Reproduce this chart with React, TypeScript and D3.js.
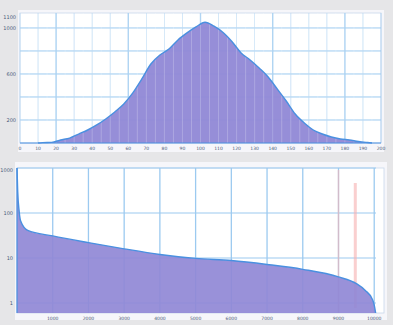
import React from "react";
import * as d3 from "d3";

// Top panel: histogram (bin start, count)
const histBins = [0,5,10,15,20,25,30,35,40,45,50,55,60,65,70,75,80,85,90,95,100,105,110,115,120,125,130,135,140,145,150,155,160,165,170,175,180,185,190,195];
const histCounts = [0,0,3,5,26,43,78,113,157,209,270,339,435,557,687,765,817,896,957,1009,1050,1015,960,880,783,722,652,574,470,365,252,174,113,78,52,35,26,13,4,0];
const histXTicks = d3.range(0, 201, 10);
const histYGrid = [200, 400, 600, 800, 1000];
const histYLabels = [200, 600, 1000];

// Bottom panel: sorted values (index, value), log scale
const rankIdx = [0, 20, 60, 100, 300, 1000, 2000, 3000, 4000, 5000, 6000, 7000, 8000, 9000, 9500, 9750, 9950, 10000, 10040];
const rankVal = [1000, 300, 110, 67, 41, 31, 22, 16, 12, 9.8, 8.8, 7.2, 5.6, 3.8, 2.7, 1.9, 1.2, 0.9, 0.6];
const rankXTicks = [1000, 2000, 3000, 4000, 5000, 6000, 7000, 8000, 9000, 10000];
const rankYTicks = [1, 10, 100, 1000];
const markers = [9000, 9470];

const FILL = "#9088d6";
const STROKE = "#4a90e0";
const GRID = "#9ccaf0";
const TXT = "#4a5a78";

export default function App() {
  const tx = d3.scaleLinear().domain([0, 200]).range([20, 381]);
  const ty = d3.scaleLinear().domain([0, 1130]).range([143, 13]);
  const histData = histBins.map((b, i) => ({ b, c: histCounts[i] }));
  const centerPts: [number, number][] = histData.map((d) => [d.b + 2.5, d.c]);
  const topPts: [number, number][] = [[10, 0], ...centerPts.filter((d) => d[0] > 10 && d[0] < 195), [195, 0]];
  const areaTop = d3.area<[number, number]>().x((d) => tx(d[0])).y0(ty(0)).y1((d) => ty(d[1])).curve(d3.curveMonotoneX);
  const lineTop = d3.line<[number, number]>().x((d) => tx(d[0])).y((d) => ty(d[1])).curve(d3.curveMonotoneX);

  const bx = d3.scaleLinear().domain([0, 10050]).range([17, 376]);
  const by = d3.scaleLog().domain([0.6, 1000]).range([313, 168]);
  const rankPts: [number, number][] = rankIdx.map((v, i) => [v, rankVal[i]]);
  const areaBot = d3.area<[number, number]>().x((d) => bx(d[0])).y0(313).y1((d) => by(d[1])).curve(d3.curveMonotoneX);
  const lineBot = d3.line<[number, number]>().x((d) => bx(d[0])).y((d) => by(d[1])).curve(d3.curveMonotoneX);

  return (
    <svg width={393} height={325} style={{ position: "absolute", left: 0, top: 0, fontFamily: "DejaVu Sans, sans-serif" }}>
      <rect x={0} y={0} width={393} height={325} fill="#e6e6e8" />
      {/* top panel */}
      <rect x={18} y={10} width={366} height={142} fill="#f6f6fa" />
      <rect x={tx(0)} y={ty(1130)} width={tx(200) - tx(0)} height={ty(0) - ty(1130)} fill="#ffffff" stroke="#c8d8ea" strokeWidth={0.8} />
      {histXTicks.map((t) => (
        <line key={"tg" + t} x1={tx(t)} x2={tx(t)} y1={13} y2={143} stroke={GRID} strokeWidth={t % 40 === 20 ? 1.3 : 0.7} opacity={t % 40 === 20 ? 1 : 0.8} />
      ))}
      {histYGrid.map((t) => (
        <line key={"tyg" + t} x1={20} x2={381} y1={ty(t)} y2={ty(t)} stroke={GRID} strokeWidth={1} />
      ))}
      <path d={areaTop(topPts) || ""} fill={FILL} opacity={0.95} />
      {histBins.map((b) => (
        <line key={"bs" + b} x1={tx(b)} x2={tx(b)} y1={ty(0)} y2={13} stroke="#ffffff" strokeWidth={1} opacity={0.22} />
      ))}
      <path d={lineTop(topPts) || ""} fill="none" stroke={STROKE} strokeWidth={1.4} />
      <line x1={20} x2={381} y1={143} y2={143} stroke={STROKE} strokeWidth={1} />
      {histXTicks.map((t) => (
        <text key={"tl" + t} x={tx(t)} y={150} fontSize={4.5} fill={TXT} textAnchor="middle">{t}</text>
      ))}
      {histYLabels.map((t) => (
        <text key={"tyl" + t} x={16} y={ty(t) + 2} fontSize={5} fill={TXT} textAnchor="end">{t}</text>
      ))}
      <text x={16} y={19} fontSize={5} fill={TXT} textAnchor="end">1100</text>

      {/* bottom panel */}
      <rect x={15} y={162} width={372} height={158} fill="#f6f6fa" />
      <rect x={bx(0)} y={168} width={bx(10050) - bx(0) + 8} height={145} fill="#ffffff" stroke="#c8d8ea" strokeWidth={0.8} />
      {rankXTicks.map((t) => (
        <line key={"bg" + t} x1={bx(t)} x2={bx(t)} y1={168} y2={313} stroke={GRID} strokeWidth={1.3} />
      ))}
      {rankYTicks.map((t) => (
        <line key={"byg" + t} x1={17} x2={376} y1={by(t)} y2={by(t)} stroke={GRID} strokeWidth={1.1} />
      ))}
      <line x1={bx(markers[0])} x2={bx(markers[0])} y1={170} y2={313} stroke="#f6b4b4" strokeWidth={1.5} opacity={0.6} />
      <line x1={bx(markers[1])} x2={bx(markers[1])} y1={183} y2={308} stroke="#f7b0b0" strokeWidth={3} opacity={0.6} />
      <path d={areaBot(rankPts) || ""} fill={FILL} opacity={0.92} />
      <path d={lineBot(rankPts) || ""} fill="none" stroke={STROKE} strokeWidth={1.4} />
      <line x1={17} x2={17} y1={168} y2={313} stroke={STROKE} strokeWidth={1.2} />
      {rankXTicks.map((t) => (
        <text key={"bl" + t} x={bx(t)} y={320} fontSize={4.5} fill={TXT} textAnchor="middle">{t}</text>
      ))}
      {rankYTicks.map((t) => (
        <text key={"byl" + t} x={13} y={Math.max(by(t), 170) + 2} fontSize={5} fill={TXT} textAnchor="end">{t}</text>
      ))}
    </svg>
  );
}
